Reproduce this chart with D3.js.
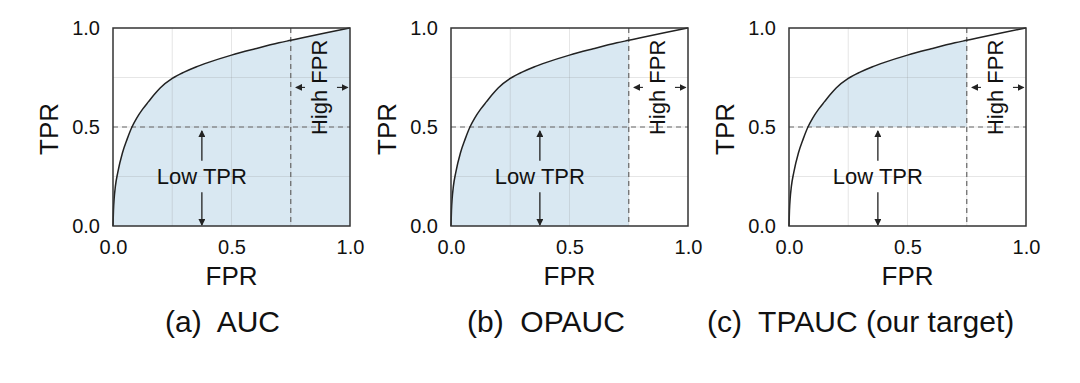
<!DOCTYPE html>
<html>
<head>
<meta charset="utf-8">
<title>AUC / OPAUC / TPAUC</title>
<script src="https://cdn.jsdelivr.net/npm/d3@7"></script>
<style>
body{
	margin: 0;
	background: #fff;
}
svg text{
	font-family: "Liberation Sans", Arial, sans-serif;
	fill: #111;
}
</style>
</head>
<body>
<svg class="chart"></svg>
<script>

// ROC curve (same curve in every panel)
var fpr = [0, 0.002, 0.005, 0.01, 0.02, 0.04, 0.06, 0.08, 0.1, 0.125, 0.15, 0.175, 0.2, 0.25, 0.3, 0.35, 0.4, 0.5, 0.6, 0.7, 0.75, 0.8, 0.9, 1.0];
var tpr = [0, 0.08, 0.14, 0.2, 0.27, 0.37, 0.44, 0.5, 0.545, 0.59, 0.628, 0.665, 0.698, 0.745, 0.777, 0.803, 0.825, 0.863, 0.895, 0.925, 0.938, 0.951, 0.976, 1.0];

var tickValues = [0, 0.5, 1];
var gridValues = [0.25, 0.5, 0.75];
var tprCut = 0.5;
var fprCut = 0.75;

var captions = ["(a)  AUC", "(b)  OPAUC", "(c)  TPAUC (our target)"];
var fillModes = ["full", "onePart", "twoPart"];

var curve = fpr.map(function(d, i){ return {x: d, y: tpr[i]}; });

var width = 1080, height = 383;
var margin = {top: 28, left: 113};
var w = 237, h = 198, step = 338;
var captionX = [165, 467, 707];

var svg = d3.select(".chart")
	.attr("width", width)
	.attr("height", height);

var defs = svg.append("defs");
defs.append("marker")
	.attr("id", "head")
	.attr("viewBox", "0 0 8 8")
	.attr("refX", 7)
	.attr("refY", 4)
	.attr("markerWidth", 7)
	.attr("markerHeight", 7)
	.attr("markerUnits", "userSpaceOnUse")
	.attr("orient", "auto")
	.append("path")
	.attr("d", "M0,0 L8,4 L0,8 z")
	.attr("fill", "#222");

var x = d3.scaleLinear().domain([0, 1]).range([0, w]);
var y = d3.scaleLinear().domain([0, 1]).range([h, 0]);

var line = d3.line()
	.x(function(d){ return x(d.x); })
	.y(function(d){ return y(d.y); })
	.curve(d3.curveMonotoneX);

function drawPanel(i){
	var g = svg.append("g")
		.attr("transform", "translate(" + (margin.left + i * step) + "," + margin.top + ")");

	// shaded region
	var pts, base;
	if(fillModes[i] === "full"){
		pts = curve; base = 0;
	}else if(fillModes[i] === "onePart"){
		pts = curve.filter(function(d){ return d.x <= fprCut; }); base = 0;
	}else{
		pts = curve.filter(function(d){ return d.x <= fprCut && d.y >= tprCut; }); base = tprCut;
	}
	var area = d3.area()
		.x(function(d){ return x(d.x); })
		.y0(y(base))
		.y1(function(d){ return y(d.y); })
		.curve(d3.curveMonotoneX);
	g.append("path")
		.attr("d", area(pts))
		.attr("fill", "#d9e8f2");

	// grid
	g.selectAll(".gx").data(gridValues).enter().append("line")
		.attr("x1", function(d){ return x(d); }).attr("x2", function(d){ return x(d); })
		.attr("y1", 0).attr("y2", h)
		.attr("stroke", "rgba(140,140,140,0.22)").attr("stroke-width", 1);
	g.selectAll(".gy").data(gridValues).enter().append("line")
		.attr("y1", function(d){ return y(d); }).attr("y2", function(d){ return y(d); })
		.attr("x1", 0).attr("x2", w)
		.attr("stroke", "rgba(140,140,140,0.22)").attr("stroke-width", 1);

	// threshold dashes
	g.append("line")
		.attr("x1", 0).attr("x2", w)
		.attr("y1", y(tprCut)).attr("y2", y(tprCut))
		.attr("stroke", "#666").attr("stroke-width", 1.2)
		.attr("stroke-dasharray", "5,4");
	g.append("line")
		.attr("x1", x(fprCut)).attr("x2", x(fprCut))
		.attr("y1", 0).attr("y2", h)
		.attr("stroke", "#666").attr("stroke-width", 1.2)
		.attr("stroke-dasharray", "5,4");

	// ROC curve
	g.append("path")
		.attr("d", line(curve))
		.attr("fill", "none")
		.attr("stroke", "#222")
		.attr("stroke-width", 1.5);

	// Low TPR annotation
	var lx = x(0.375);
	g.append("line")
		.attr("x1", lx).attr("x2", lx)
		.attr("y1", y(0.33)).attr("y2", y(0.48))
		.attr("stroke", "#222").attr("stroke-width", 1.3)
		.attr("marker-end", "url(#head)");
	g.append("line")
		.attr("x1", lx).attr("x2", lx)
		.attr("y1", y(0.17)).attr("y2", y(0.005))
		.attr("stroke", "#222").attr("stroke-width", 1.3)
		.attr("marker-end", "url(#head)");
	g.append("text")
		.attr("x", lx).attr("y", y(0.25))
		.attr("dy", "0.36em")
		.attr("text-anchor", "middle")
		.style("font-size", "22px")
		.text("Low TPR");

	// High FPR annotation
	var hy = y(0.70);
	g.append("line")
		.attr("x1", x(0.81)).attr("x2", x(0.772))
		.attr("y1", hy).attr("y2", hy)
		.attr("stroke", "#222").attr("stroke-width", 1.1)
		.attr("marker-end", "url(#head)");
	g.append("line")
		.attr("x1", x(0.945)).attr("x2", x(0.99))
		.attr("y1", hy).attr("y2", hy)
		.attr("stroke", "#222").attr("stroke-width", 1.1)
		.attr("marker-end", "url(#head)");
	g.append("text")
		.attr("transform", "translate(" + x(0.875) + "," + hy + ") rotate(-90)")
		.attr("dy", "0.3em")
		.attr("text-anchor", "middle")
		.style("font-size", "22px")
		.text("High FPR");

	// frame
	g.append("rect")
		.attr("width", w).attr("height", h)
		.attr("fill", "none")
		.attr("stroke", "#333")
		.attr("stroke-width", 1.5);

	// axes
	var yAxis = d3.axisLeft(y).tickValues(tickValues).tickSize(0).tickPadding(13).tickFormat(d3.format(".1f"));
	var xAxis = d3.axisBottom(x).tickValues(tickValues).tickSize(0).tickPadding(14).tickFormat(d3.format(".1f"));

	var ya = g.append("g").call(yAxis);
	var xa = g.append("g").attr("transform", "translate(0," + h + ")").call(xAxis);
	[ya, xa].forEach(function(a){
		a.attr("font-size", 20)
			.attr("font-family", "'Liberation Sans', Arial, sans-serif");
		a.select(".domain").remove();
		a.selectAll("text")
			.style("font-size", "20px")
			.attr("fill", "#111");
	});

	g.append("text")
		.attr("transform", "translate(-64," + (h / 2 + 2) + ") rotate(-90)")
		.attr("dy", "0.36em")
		.attr("text-anchor", "middle")
		.style("font-size", "26px")
		.text("TPR");

	g.append("text")
		.attr("x", w / 2)
		.attr("y", h + 59)
		.attr("text-anchor", "middle")
		.style("font-size", "26px")
		.text("FPR");

	svg.append("text")
		.attr("x", captionX[i])
		.attr("y", 332)
		.attr("xml:space", "preserve")
		.style("white-space", "pre")
		.style("font-size", "30px")
		.text(captions[i]);
}

for(var i = 0; i < 3; i++){
	drawPanel(i);
}
</script>
</body>
</html>
